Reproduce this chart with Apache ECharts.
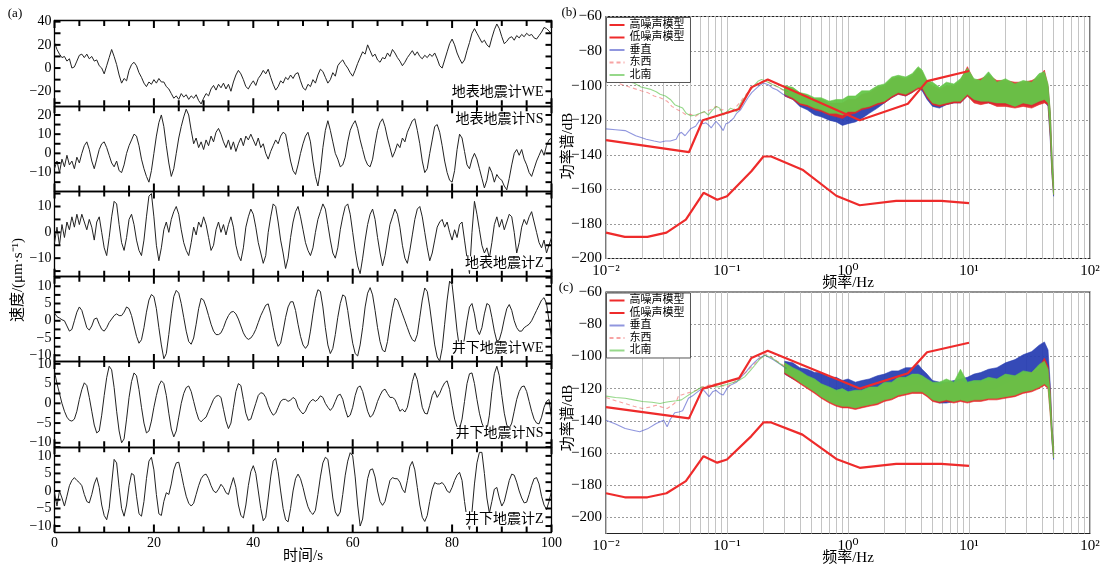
<!DOCTYPE html>
<html>
<head>
<meta charset="utf-8">
<script src="https://cdn.jsdelivr.net/npm/echarts@6/dist/echarts.min.js"></script>
<style>
  html, body { margin: 0; background: #fff; }
  #chart { width: 1107px; height: 567px; }
</style>
</head>
<body>
<div id="chart"></div>
<script>
// ---- (a) velocity records, one value every 0.5 s from 0 to 100 s ----
const T_STEP = 0.5;
const surfWE = [
  22, 16, 12, 9, 10, 6, 8, 0, 1, 6,
  11, 12, 9, 12, 8, 10, 6, 7, 2, 0,
  -5, 2, 9, 16, 10, 3, -6, -13, -9, -11,
  -2, 3, 5, 2, -4, -8, -13, -16, -12, -14,
  -10, -13, -9, -12, -12, -16, -18, -22, -26, -24,
  -27, -22, -25, -23, -27, -24, -26, -23, -28, -31,
  -26, -22, -24, -18, -15, -19, -14, -17, -13, -18,
  -14, -20, -12, -6, -2, -5, -10, -16, -18, -14,
  -11, -15, -9, -6, -2, -5, -1, -8, -14, -19,
  -16, -11, -13, -8, -10, -6, -9, -5, -4, -11,
  -17, -19, -14, -16, -10, -13, -6, -1, -3, -8,
  -13, -10, -4, -7, 2, 5, 7, 3, 0, -4,
  -7, -2, 4, 9, 14, 12, 20, 15, 10, 12,
  7, 5, 9, 8, 13, 10, 16, 13, 9, 6,
  2, 5, 9, 12, 15, 11, 14, 10, 8, 11,
  9, 12, 10, 13, 8, 2, 0, 7, 14, 21,
  25, 20, 13, 8, 4, 7, 15, 22, 30, 34,
  30, 26, 22, 24, 20, 18, 26, 33, 38, 34,
  27, 21, 23, 26, 27, 24, 28, 26, 29, 27,
  30, 28, 29, 26, 25, 28, 31, 35, 34, 32,
  29
];
const surfNS = [
  -8, -4, -10, -3, -7, -1, -6, -4, -8, -2,
  -5, 0, 4, 6, 2, -4, -8, -3, 2, 5,
  6, 3, -1, -5, -7, -4, -9, -10, -6, 0,
  4, 7, 10, 9, 4, -3, -8, -12, -15, -9,
  0, 9, 16, 20, 14, 4, -5, -12, -8, 0,
  8, 14, 19, 23, 20, 12, 5, 8, 3, 6,
  2, 7, 4, 9, 6, 11, 13, 10, 6, 3,
  7, 2, 6, 1, 5, 8, 4, 9, 7, 10,
  7, 4, 8, 3, 5, 0, -3, 1, 4, 7,
  5, 9, 11, 10, 3, -4, -9, -11, -6, 0,
  5, 9, 11, 6, -4, -12, -17, -9, 3, 12,
  17, 12, 6, 0, -3, -7, -6, -2, 6, 12,
  15, 17, 13, 7, 2, -3, -6, -7, -3, 5,
  12, 16, 18, 14, 8, 3, -2, 1, 5, 3,
  8, 6, 11, 14, 17, 18, 12, 5, -4, -10,
  -8, 0, 7, 14, 15, 11, 4, -4, -10, -14,
  -15, -9, 2, 10, 8, 1, -6, -8, -3, 0,
  -3, -8, -13, -18, -14, -7, -10, -15, -11, -13,
  -14, -17, -19, -13, -6, 0, 2, -1, 2, -3,
  -6, -10, -12, -8, -4, -1, 2, -1, 4, 7,
  8
];
const surfZ = [
  -4, 2, -5, 3, -2, 4, 1, 6, 2, 7,
  3, 7, 4, 1, 5, 2, -3, 4, 6, 0,
  -6, -9, -2, 6, 12, 11, 3, -4, -7, -2,
  5, 7, 3, -3, -7, -9, -3, 6, 14, 15,
  6, -5, -11, -6, 1, 4, 0, 5, 8, 10,
  7, 1, -4, -7, -9, -4, 2, -1, 4, 2,
  6, 3, -2, -7, -5, 1, 4, 0, 3, -1,
  3, 6, 2, -5, -9, -11, -6, 2, 6, 9,
  7, 2, -4, -8, -12, -9, 0, 6, 11, 10,
  4, -3, -8, -14, -10, -2, 4, 8, 10, 6,
  1, -4, -7, -9, -6, 0, 5, 8, 11, 9,
  3, -3, -8, -10, -6, 1, 6, 10, 11, 7,
  0, -7, -13, -16, -10, -3, 3, 7, 9, 5,
  -2, -8, -13, -9, -3, 3, 6, 9, 7, 2,
  -5, -10, -12, -7, -1, 5, 9, 10, 6, 0,
  -6, -11, -8, -3, 2, 4, 5, 2, 4, 0,
  -3, 1, -2, 3, 4, -3, -10, -16, 0, 12,
  7, 1, -5, -8, -6, -10, -4, 3, 6, 2,
  5, 1, 4, 7, 6, 0, -8, -4, 2, 5,
  3, 6, 8, 4, 0, -4, -6, -3, -8, -5,
  -2
];
const wellWE = [
  2.3, 1.2, 0.8, 0.3, 0, -1.5, -3, -2.5, 0, 2.5,
  4, 3, 0.5, -2, -2.7, -1.5, 0.5, 0.8, -1, -2.5,
  -3, -2, -0.5, 0.5, 1.5, 2, 1.5, 1.5, 2.5, 4,
  3.5, 1.5, -1.5, -4.5, -6.5, -5.5, -2, 2.5, 6, 7.6,
  7, 3.5, -2, -7, -11, -9.5, -4, 2, 7, 8.8,
  8, 5, 1, -3, -6, -6.8, -5, -1, 3.5, 6.5,
  6, 4, 1.5, -1, -3, -4, -4, -3.5, -2, 0,
  1.5, 2.5, 2.7, 2, 0.5, -1.5, -3.5, -4.8, -5.4, -5,
  -4, -2.5, -0.5, 1.5, 3, 4.5, 4.9, 2, -2, -5.5,
  -7.4, -6.5, -3, 1, 4, 5.5, 5.5, 3, -1, -4.5,
  -7, -8, -7, -3, 2, 6.5, 9, 8.5, 4, -2,
  -7, -9.5, -8, -4, 1, 5, 7.5, 7, 3, -2,
  -6.5, -9.5, -10.2, -7, -2, 4, 8, 9.6, 7.5, 3,
  -2, -6, -8.5, -9, -6, -1, 3.5, 6.5, 6, 4,
  2, 0, -2, -4, -5.5, -6, -4, 1, 6, 9.5,
  8.5, 4, -1.5, -7, -10.5, -11.7, -8, -1, 6, 11.5,
  10.5, 4, -3, -8, -9, -5, 0, 4, 5, 2,
  -2.5, -4, -2, 2, 5, 4.5, 1, -3, -5.9, -5.5,
  -3, 0.5, 3.5, 4.7, 3, 0, -2, -3, -3, -2,
  -1.5, -1, 0, 1.5, 3, 4.5, 6, 6.7, 5, 0,
  -5
];
const wellNS = [
  8, 5, 2.5, 0, -2, -3.5, -4.3, -4.5, -4, -2,
  1, 3.5, 5.2, 4.5, 1.5, -2, -5.5, -7.5, -7, -3,
  2, 6.5, 9.4, 8.5, 4, -2, -7, -10, -9, -4,
  1.5, 5.5, 7.7, 7, 3.5, -1, -5, -7.5, -7, -4.5,
  -1, 2, 4.5, 5.7, 5, 2, -2.5, -6.5, -8.5, -7,
  -3.5, 0, 2.5, 4, 4.4, 3, 0.5, -2, -4, -4.7,
  -4, -3.5, -2, -0.5, 1, 1.8, 2, 1.5, -1.5, -4.5,
  -6.4, -5, -1, 3, 5, 4.5, 1, -2.5, -4.3, -4,
  -2, 0, 2, 2.7, 2.5, 1.5, -0.5, -2, -3, -2.5,
  -1, 0.5, 1, 1, 0.5, 0.8, 1.5, 1, -1, -2,
  -2.7, -2, -0.5, 0.5, 1, 0.5, 1, 1.9, 1.5, 0,
  -1, -1.8, -1, 0.5, 2, 2.3, 1, -1.5, -3.5, -3,
  -1, 2, 4, 4.4, 3, 0.5, -2, -3.5, -3, -1.5,
  0.5, 2, 3.2, 3.6, 2.5, 1.5, 1.5, 1, -0.5, -2,
  -1.5, -2.2, -1, 2, 5.5, 7.7, 6, 2.5, -1, -2.5,
  -2.7, -0.5, 2, 3.2, 1.5, 2.5, 4, 5.2, 5.7, 3.5,
  -0.5, -4, -6, -6.4, -4, 0.5, 5, 7.5, 7.7, 5,
  1, -2.5, -5, -6.5, -6.8, -3, 3, 7.5, 9.4, 7,
  2, -2.5, -5.5, -6.4, -5, -2, 1, 3, 4.2, 4.4,
  3, 0.5, -2, -4, -5, -5.2, -3.5, -1, 0.5, 1,
  -3.5
];
const wellZ = [
  -0.5, -4.3, 0, -2, -4.3, -1.5, 1.5, 3, 3.8, 3,
  2.4, 1.5, -1, -3, -3.4, -1, 2, 3.8, 1, -4,
  -7, -8.2, -5, 2, 9, 8, 1, -5, -7.2, -4,
  1.5, 5, 4.5, -1.5, -6.5, -7.2, -3, 3.5, 8.5, 9.6,
  6, -1, -6.5, -7, -3, -0.5, -1, 2, 6, 8,
  8.2, 5, 1.5, -1.5, -3.5, -4.3, -3.5, -1, 1.5, 3.5,
  4.5, 4.8, 3.5, 1.5, 0, -0.5, 0.5, 1.9, 1, -0.5,
  -1, 1.5, 3.8, 1, -4, -7, -7.7, -4, 1.5, 5.5,
  7.2, 5, 0, -5, -8.5, -7.5, -2, 4, 8.5, 9.3,
  5.5, 0, -5, -8.2, -8.8, -5, 0, 3.5, 4.8, 3.5,
  1, -2, -4.5, -6, -6.7, -5.5, -1, 4, 8, 9.6,
  9, 4, -2, -6, -7.2, -6, -1, 4.5, 8.5, 10.9,
  10, 4, -4, -10, -8, -2, 3.5, 6, 6.3, 4,
  0, -3, -4.1, -3, 0, 3, 3.8, 3.5, 3.5, 2.5,
  0.5, -0.5, 3, 7, 8.4, 6, 1, -4, -7.5, -8.7,
  -7, -3, 0.5, 2.4, 2, 2, 2.4, 1.5, 0, -0.5,
  1, 3, 4.5, 5.3, 3, -3, -8, -11, -6, 2,
  8, 11, 11, 5, -2, -6.3, -3, 0.5, 1, -2,
  -4.3, -3, 0, 3, 4.8, 4.5, 2.5, 0, -2, -3.4,
  -3.2, -1, 1.5, 3.5, 3.8, 2, -1.5, -4, -5.3, -3,
  0
];
const traceNames = ['地表地震计WE', '地表地震计NS', '地表地震计Z', '井下地震计WE', '井下地震计NS', '井下地震计Z'];
const traces = [surfWE, surfNS, surfZ, wellWE, wellNS, wellZ];
// tick labels and tick marks of each strip
const xTickVals = [0, 5, 10, 15, 20, 25, 30, 35, 40, 45, 50, 55, 60, 65, 70, 75, 80, 85, 90, 95, 100];
const yLabelVals = [[-20, 0, 20, 40], [-10, 0, 10, 20], [-10, 0, 10], [-10, -5, 0, 5, 10], [-10, -5, 0, 5, 10], [-10, -5, 0, 5, 10]];
const yTickVals = [
  [-30, -20, -10, 0, 10, 20, 30, 40],
  [-15, -10, -5, 0, 5, 10, 15, 20],
  [-15, -10, -5, 0, 5, 10, 15],
  [-10, -7.5, -5, -2.5, 0, 2.5, 5, 7.5, 10, 12.5],
  [-10, -7.5, -5, -2.5, 0, 2.5, 5, 7.5, 10],
  [-10, -7.5, -5, -2.5, 0, 2.5, 5, 7.5, 10, 12.5]
];

// ---- (b)(c) power spectra, [frequency Hz, dB] ----
const nhnm = [[0.01, -131.5], [0.0485, -138.5], [0.063, -120], [0.126, -113.5], [0.159, -101], [0.217, -96.5], [1.25, -120], [3.125, -110.5], [4.5, -97.4], [10, -91.5]];
const nlnm = [[0.01, -185], [0.0143, -187.5], [0.022, -187.5], [0.0316, -185], [0.0457, -177.5], [0.064, -162], [0.083, -166], [0.1, -164], [0.159, -149.5], [0.2, -141], [0.232, -141], [0.42, -148.6], [0.8, -163.7], [1.25, -169.2], [2.5, -166.7], [5.9, -166.7], [10, -168]];

// low-frequency part of each component (thin lines)
const bVert = [[0.01, -125], [0.012, -125.5], [0.0144, -126], [0.016, -127.5], [0.0176, -129], [0.0195, -130], [0.0215, -131], [0.025, -132], [0.028, -132.7], [0.031, -132], [0.034, -132], [0.038, -131], [0.04, -128], [0.042, -127], [0.045, -129], [0.05, -125], [0.055, -123.5], [0.06, -119.6], [0.063, -122], [0.067, -121.5], [0.071, -123], [0.074, -124.4], [0.081, -120.6], [0.087, -123], [0.093, -126], [0.098, -122], [0.103, -121.5], [0.114, -118.6], [0.12, -116], [0.13, -113.8], [0.14, -110], [0.149, -107], [0.16, -104], [0.17, -102.3], [0.185, -100], [0.2, -98.5], [0.22, -99.5], [0.237, -101.3], [0.26, -102.5], [0.29, -105], [0.32, -106.5]];
const bEW = [[0.01, -97.5], [0.012, -98], [0.0135, -99.4], [0.016, -101], [0.0195, -103], [0.022, -104], [0.025, -106], [0.028, -107], [0.032, -109], [0.035, -112], [0.039, -114], [0.042, -115], [0.046, -117], [0.05, -116.5], [0.055, -117.7], [0.06, -116], [0.067, -115], [0.073, -114], [0.081, -112], [0.087, -114], [0.093, -114], [0.1, -115.8], [0.106, -115.8], [0.113, -114], [0.12, -112], [0.13, -109], [0.144, -105], [0.155, -102.5], [0.17, -100], [0.185, -98], [0.2, -97.5], [0.22, -98], [0.25, -100], [0.29, -102.5], [0.32, -104]];
const bNS = [[0.01, -95], [0.012, -96.5], [0.0144, -97.5], [0.017, -98.5], [0.0195, -100.8], [0.023, -102], [0.026, -103.5], [0.028, -105], [0.031, -106], [0.034, -108], [0.037, -111], [0.04, -112], [0.043, -113], [0.046, -116], [0.05, -117.5], [0.055, -117], [0.06, -116], [0.065, -115], [0.07, -117], [0.076, -114], [0.082, -112], [0.087, -113], [0.093, -117], [0.1, -115], [0.107, -113], [0.114, -114], [0.12, -115], [0.13, -110], [0.14, -107], [0.149, -104], [0.16, -101.5], [0.17, -99.4], [0.18, -97.5], [0.193, -96.5], [0.21, -97.5], [0.237, -99.4], [0.26, -100.5], [0.29, -102.3], [0.32, -103.5]];
const cVert = [[0.01, -139.6], [0.012, -142], [0.0144, -144.8], [0.017, -146], [0.019, -146.8], [0.022, -145], [0.026, -141.7], [0.03, -139.6], [0.032, -143.7], [0.034, -139], [0.037, -135], [0.04, -134.5], [0.043, -133.8], [0.048, -126], [0.052, -124.5], [0.055, -123], [0.062, -120], [0.066, -122], [0.071, -125], [0.076, -122], [0.081, -121], [0.087, -123], [0.093, -124], [0.1, -120], [0.106, -118], [0.12, -116], [0.13, -113], [0.144, -109.6], [0.155, -106.5], [0.17, -103.4], [0.185, -101], [0.206, -99.3], [0.24, -102], [0.27, -104.5], [0.31, -107.5]];
const cEW = [[0.01, -125.5], [0.012, -127.5], [0.0144, -129.3], [0.017, -131], [0.02, -132.4], [0.023, -131.5], [0.026, -130.3], [0.029, -131.5], [0.032, -132.4], [0.035, -130.5], [0.038, -128.2], [0.04, -124], [0.042, -124], [0.046, -123], [0.051, -122], [0.056, -121], [0.062, -119], [0.07, -118], [0.081, -117], [0.09, -118], [0.1, -119], [0.11, -117], [0.12, -114.8], [0.135, -111.5], [0.149, -108.6], [0.165, -105.5], [0.18, -102.4], [0.206, -98.3], [0.23, -100], [0.26, -103], [0.3, -106]];
const cNS = [[0.01, -124.7], [0.012, -125.5], [0.0144, -126], [0.017, -127], [0.02, -128], [0.024, -128.5], [0.028, -129.3], [0.031, -128.5], [0.034, -128], [0.038, -127.5], [0.042, -127], [0.046, -125], [0.051, -122.7], [0.056, -121], [0.062, -119], [0.068, -119.5], [0.076, -118.5], [0.085, -119], [0.093, -118], [0.1, -117.5], [0.114, -116], [0.125, -115], [0.14, -112.7], [0.155, -109], [0.17, -105.5], [0.185, -102], [0.206, -99.3], [0.23, -100.5], [0.25, -102.4], [0.28, -105], [0.31, -107.6]];

// high-frequency part: dense noisy band, upper and lower envelope (dB) at bandF (Hz)
const bandF = [0.3, 0.35, 0.4, 0.46, 0.53, 0.6, 0.7, 0.8, 0.9, 1.0, 1.15, 1.3, 1.5, 1.75, 2.0, 2.3, 2.6, 3.0, 3.4, 3.8, 4.1, 4.5, 5.0, 5.7, 6.5, 7.5, 8.5, 9.7, 11, 12.5, 14.5, 17, 20, 24, 28, 33, 38, 42, 45, 47, 48.5, 50];
const bVertHi = [-101, -103, -106, -108, -110, -111, -113, -113, -114, -112, -112, -108, -107, -103, -101, -97, -95, -97, -95, -91, -93, -99, -102, -104, -101, -101, -99, -92, -97, -99, -93, -99, -98, -100, -99, -99, -96, -94, -101, -117, -142, -158];
const bVertLo = [-106, -108, -112, -114, -117, -118, -120, -121, -123, -122, -121, -119, -116, -113, -110, -107, -105, -106, -104, -101, -103, -108, -112, -113, -111, -110, -110, -106, -109, -110, -110, -111, -111, -112, -111, -112, -110, -109, -112, -132, -152, -164];
const bEWHi = [-101, -102, -105, -106, -108, -108, -110, -110, -110, -108, -108, -105, -104, -101, -100, -96, -95, -96, -94, -90, -92, -98, -100, -102, -100, -100, -97, -89, -97, -96, -94, -97, -97, -98, -98, -97, -95, -91, -100, -116, -141, -156];
const bEWLo = [-106, -108, -111, -112, -114, -115, -117, -118, -119, -117, -116, -114, -113, -111, -110, -107, -105, -106, -104, -102, -102, -107, -111, -112, -111, -110, -110, -106, -110, -111, -110, -112, -112, -113, -112, -113, -111, -110, -111, -130, -151, -163];
const bNSHi = [-100, -101, -104, -105, -107, -107, -109, -108, -108, -106, -106, -103, -103, -100, -99, -95, -94, -95, -93, -89, -91, -97, -98, -101, -98, -99, -96, -90, -96, -97, -92, -98, -96, -99, -97, -98, -93, -92, -99, -115, -140, -155];
const bNSLo = [-105, -107, -110, -111, -113, -114, -116, -116, -117, -115, -115, -113, -112, -110, -109, -106, -104, -105, -103, -101, -101, -106, -110, -111, -110, -109, -109, -105, -108, -109, -109, -110, -110, -112, -110, -111, -109, -108, -110, -128, -150, -163];
const cVertHi = [-103, -104, -107, -108, -110, -110, -113, -113, -115, -114, -116, -115, -114, -112, -111, -109, -109, -107, -107, -105, -108, -111, -115, -116, -116, -115, -114, -113, -111, -110, -108, -107, -104, -102, -99, -97, -93, -91, -96, -118, -143, -156];
const cVertLo = [-111, -114, -116, -118, -120, -122, -123, -125, -126, -127, -128, -127, -126, -124, -122, -121, -120, -119, -118, -118, -119, -123, -127, -129, -129, -128, -127, -126, -124, -123, -121, -120, -117, -115, -112, -110, -106, -104, -109, -132, -153, -164];
const cEWHi = [-105, -108, -110, -113, -115, -118, -120, -122, -122, -123, -122, -122, -121, -120, -118, -117, -115, -114, -113, -113, -114, -115, -117, -118, -116, -117, -115, -117, -117, -116, -115, -115, -113, -113, -111, -110, -107, -101, -106, -122, -144, -156];
const cEWLo = [-111, -114, -117, -120, -123, -126, -129, -131, -132, -132, -133, -132, -131, -130, -128, -127, -125, -124, -123, -123, -123, -125, -128, -129, -128, -129, -128, -129, -128, -128, -127, -127, -126, -125, -123, -122, -120, -118, -120, -137, -152, -163];
const cNSHi = [-104, -107, -109, -112, -114, -117, -119, -121, -120, -122, -121, -121, -119, -119, -116, -116, -113, -113, -111, -111, -112, -114, -116, -116, -114, -116, -108, -116, -115, -115, -113, -114, -111, -112, -109, -110, -105, -103, -108, -124, -144, -156];
const cNSLo = [-110, -113, -116, -119, -122, -125, -128, -130, -131, -131, -132, -131, -130, -129, -127, -126, -124, -123, -122, -122, -122, -124, -127, -128, -127, -128, -127, -128, -127, -127, -126, -126, -125, -124, -122, -121, -119, -117, -119, -136, -152, -163];

const logLabelVals = [0.01, 0.1, 1, 10, 100];
const logGridVals = [0.01, 0.02, 0.03, 0.04, 0.05, 0.06, 0.07, 0.08, 0.09, 0.1, 0.2, 0.3, 0.4, 0.5, 0.6, 0.7, 0.8, 0.9, 1, 2, 3, 4, 5, 6, 7, 8, 9, 10, 20, 30, 40, 50, 60, 70, 80, 90, 100];
const dbVals = [-200, -180, -160, -140, -120, -100, -80, -60];
const legendNames = ['高噪声模型', '低噪声模型', '垂直', '东西', '北南'];

const SERIF = '"Liberation Serif", "DejaVu Serif", serif';
const MIXED = '"Liberation Serif", "Noto Sans CJK SC", sans-serif';
const minus = v => String(v).replace('-', '\u2212');
const supDigits = { '-': '\u207b', '0': '\u2070', '1': '\u00b9', '2': '\u00b2' };
const logLabel = v => '10' + String(Math.round(Math.log10(v))).split('').map(c => supDigits[c]).join('');

const chart = echarts.init(document.getElementById('chart'));

const boxTop = 20.5, boxH = 85.25, boxLeft = 54.5, boxW = 497;
const yRanges = [[-32.5, 41], [-19.6, 24.8], [-17, 16], [-11.8, 12.9], [-11, 10.6], [-11.7, 12.6]];

const grids = [], xAxes = [], yAxes = [], series = [], graphics = [];
const frameLine = { show: true, onZero: false, lineStyle: { color: '#000', width: 1.3 } };
const TICK = { stroke: '#000', lineWidth: 2 };

// inward tick marks on the four edges of strip i, positioned by the strip's own axes
function tickSeries(i) {
  const [yMin, yMax] = yRanges[i];
  return {
    type: 'custom', xAxisIndex: 2 * i, yAxisIndex: 2 * i, silent: true, z: 20, clip: false,
    data: xTickVals.map(t => [t, 0]).concat(yTickVals[i].map(v => [v, 1])),
    renderItem(params, api) {
      const v = api.value(0);
      if (api.value(1) === 0) {
        const len = v % 20 === 0 ? 7.5 : 5.5;
        const b = api.coord([v, yMin]), u = api.coord([v, yMax]);
        return { type: 'group', children: [
          { type: 'line', shape: { x1: b[0], y1: b[1], x2: b[0], y2: b[1] - len }, style: TICK },
          { type: 'line', shape: { x1: u[0], y1: u[1], x2: u[0], y2: u[1] + len }, style: TICK }
        ] };
      }
      const l = api.coord([0, v]), r = api.coord([100, v]);
      return { type: 'group', children: [
        { type: 'line', shape: { x1: l[0], y1: l[1], x2: l[0] + 6, y2: l[1] }, style: TICK },
        { type: 'line', shape: { x1: r[0], y1: r[1], x2: r[0] - 6, y2: r[1] }, style: TICK }
      ] };
    }
  };
}

traces.forEach((vals, i) => {
  grids.push({ left: boxLeft, top: boxTop + i * boxH, width: boxW, height: boxH, show: false, containLabel: false });
  ['bottom', 'top'].forEach(pos => {
    xAxes.push({
      type: 'value', gridIndex: i, position: pos, min: 0, max: 100, interval: 20,
      axisLine: frameLine, splitLine: { show: false }, axisTick: { show: false },
      axisLabel: { show: pos === 'bottom' && i === 5, color: '#000', fontSize: 14, fontFamily: SERIF, margin: 4 }
    });
  });
  ['left', 'right'].forEach(pos => {
    yAxes.push({
      type: 'value', gridIndex: i, position: pos, min: yRanges[i][0], max: yRanges[i][1],
      axisLine: frameLine, splitLine: { show: false }, axisTick: { show: false },
      axisLabel: { show: pos === 'left', customValues: yLabelVals[i], formatter: minus, color: '#000', fontSize: 14, fontFamily: SERIF, margin: 3 }
    });
  });
  series.push({
    type: 'line', xAxisIndex: 2 * i, yAxisIndex: 2 * i, symbol: 'none', clip: true,
    lineStyle: { color: '#222', width: 1 },
    data: vals.map((v, k) => [k * T_STEP, v])
  });
  series.push(tickSeries(i));
  const y = i === 1 ? boxTop + i * boxH + 14 : boxTop + (i + 1) * boxH - 13;
  graphics.push({
    type: 'text', x: boxLeft + boxW - 7, y, z: 100,
    style: { text: traceNames[i], font: '14px ' + MIXED, fill: '#000', align: 'right', verticalAlign: 'middle', backgroundColor: '#fff', padding: [0, 1] }
  });
});

// spectra panels
const panels = [
  { top: 16.5, height: 242, yMin: -200, vert: bVert, ew: bEW, ns: bNS, band: [[bVertLo, bVertHi], [bEWLo, bEWHi], [bNSLo, bNSHi]] },
  { top: 292, height: 241.5, yMin: -210, vert: cVert, ew: cEW, ns: cNS, band: [[cVertLo, cVertHi], [cEWLo, cEWHi], [cNSLo, cNSHi]] }
];
const bandColors = ['rgba(38,60,178,0.93)', 'rgba(230,38,38,0.93)', 'rgba(100,198,72,0.95)'];

function band(idx, lo, hi, color) {
  return {
    type: 'custom', xAxisIndex: idx, yAxisIndex: idx, silent: true, z: 2,
    data: [[bandF[0], lo[0]]],
    renderItem(params, api) {
      const pts = [];
      bandF.forEach((f, k) => pts.push(api.coord([f, hi[k]])));
      for (let k = bandF.length - 1; k >= 0; k--) pts.push(api.coord([bandF[k], lo[k]]));
      return { type: 'polygon', shape: { points: pts }, style: { fill: color, stroke: color, lineWidth: 0.6 } };
    }
  };
}

panels.forEach((p, j) => {
  const gi = 6 + j, ai = 12 + j;
  grids.push({ left: 606, top: p.top, width: 484, height: p.height, show: true, borderColor: '#222', borderWidth: 1.2 });
  xAxes.push({
    type: 'log', logBase: 10, gridIndex: gi, min: 0.01, max: 100,
    axisLine: { show: false, onZero: false },
    axisTick: { show: false, customValues: logGridVals },
    splitLine: { show: true, lineStyle: { color: '#c4c4c4', width: 1 } },
    axisLabel: { customValues: logLabelVals, formatter: logLabel, color: '#000', fontSize: 15, fontFamily: SERIF, margin: 5 }
  });
  yAxes.push({
    type: 'value', gridIndex: gi, min: p.yMin, max: -60,
    axisLine: { show: false, onZero: false },
    axisTick: { show: false, customValues: dbVals },
    splitLine: { show: true, lineStyle: { color: '#9a9a9a', width: 1, type: [2, 2] } },
    axisLabel: { customValues: dbVals, formatter: minus, color: '#000', fontSize: 15, fontFamily: SERIF, margin: 4 }
  });
  const thin = (name, data, color, type) => ({
    type: 'line', name, xAxisIndex: ai, yAxisIndex: ai, symbol: 'none', z: 3, data,
    lineStyle: { color, width: 1.1, type }, itemStyle: { color }
  });
  series.push(
    thin('垂直', p.vert, 'rgba(70,80,200,0.6)', 'solid'),
    thin('东西', p.ew, 'rgba(240,90,90,0.55)', [4, 3]),
    thin('北南', p.ns, 'rgba(80,190,60,0.6)', 'solid'),
    band(ai, p.band[0][0], p.band[0][1], bandColors[0]),
    band(ai, p.band[1][0], p.band[1][1], bandColors[1]),
    band(ai, p.band[2][0], p.band[2][1], bandColors[2]),
    { type: 'line', name: '高噪声模型', xAxisIndex: ai, yAxisIndex: ai, symbol: 'none', z: 5, data: nhnm, lineStyle: { color: '#ee2b2b', width: 2.2 }, itemStyle: { color: '#ee2b2b' } },
    { type: 'line', name: '低噪声模型', xAxisIndex: ai, yAxisIndex: ai, symbol: 'none', z: 5, data: nlnm, lineStyle: { color: '#ee2b2b', width: 2.2 }, itemStyle: { color: '#ee2b2b' } }
  );
});

const legendAt = top => ({
  data: legendNames, orient: 'vertical', left: 606.5, top, selectedMode: false,
  itemWidth: 15, itemHeight: 8, itemGap: 1.5, padding: [2, 6, 2, 2],
  borderColor: '#555', borderWidth: 1, backgroundColor: '#fff', z: 10,
  itemStyle: { opacity: 0 },
  textStyle: { fontSize: 11, lineHeight: 9, fontFamily: MIXED, color: '#000' }
});

const txt = (text, x, y, size, extra) => Object.assign({
  type: 'text', x, y, z: 100,
  style: { text, font: size + 'px ' + MIXED, fill: '#000', align: 'center', verticalAlign: 'middle' }
}, extra || {});

graphics.push(
  txt('(a)', 15, 14, 13),
  txt('(b)', 569, 13, 13),
  txt('(c)', 566, 288, 13),
  txt('时间/s', 303, 556, 15),
  txt('频率/Hz', 848, 283, 15),
  txt('频率/Hz', 848, 558, 15),
  txt('速度/(μm·s⁻¹)', 18, 280, 15, { rotation: Math.PI / 2 }),
  txt('功率谱/dB', 568, 146, 15, { rotation: Math.PI / 2 }),
  txt('功率谱/dB', 568, 418, 15, { rotation: Math.PI / 2 })
);

chart.setOption({
  animation: false,
  backgroundColor: '#fff',
  grid: grids,
  xAxis: xAxes,
  yAxis: yAxes,
  legend: [legendAt(17.5), legendAt(293)],
  series,
  graphic: graphics
});
</script>
</body>
</html>
